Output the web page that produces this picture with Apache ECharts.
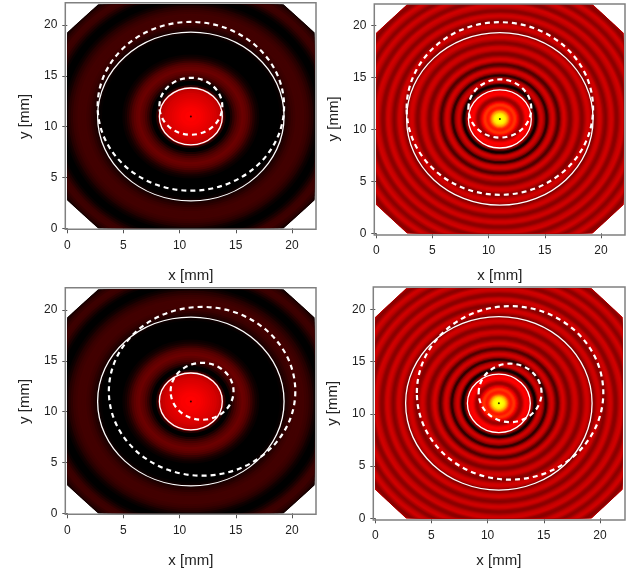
<!DOCTYPE html>
<html>
<head>
<meta charset="utf-8">
<style>html,body{margin:0;padding:0;background:#fff}#chartmain{width:627px;height:572px}</style>
<script src="https://cdn.jsdelivr.net/npm/echarts@6/dist/echarts.min.js"></script>
</head>
<body>
<div id="chartmain"></div>
<script>
// radial intensity, left column, one value every 0.2 mm from the centre
var leftStep = 0.2;
var leftProfile = [
	.50, .50, .50, .49, .49, .48, .47, .46, .45, .44,
	.43, .42, .40, .38, .35, .08, .00, .00, .05, .10,
	.14, .17, .19, .21, .20, .18, .15, .11, .07, .04,
	.02, .00, .00, .00, .00, .00, .00, .00, .00, .00,
	.01, .03, .05, .07, .09, .11, .12, .13, .13, .13,
	.13, .12, .11, .09, .07, .04, .02, .00, .00, .00,
	.02, .05, .08, .11, .12, .12, .10, .08, .05, .03, .02
];
// right column, one value every 0.1 mm from the centre
var rightStep = 0.1;
var rightProfile = [
	1.0, 1.0, 1.0, 1.0, .98, .95, .88, .80, .70, .60,
	.55, .54, .57, .60, .59, .54, .47, .40, .33, .30,
	.31, .36, .43, .48, .50, .49, .48, .45, .40, .33,
	.25, .10, .02, .06, .22, .34, .40, .41, .38, .33,
	.26, .13, .08, .16, .28, .36, .40, .42, .40, .35,
	.27, .20, .15, .18, .26, .34, .39, .42, .41, .37,
	.33, .28, .25, .25, .28, .33, .37, .40, .41, .40,
	.37, .32, .28, .26, .27, .31, .35, .39, .41, .41,
	.39, .35, .30, .27, .26, .28, .33, .37, .40, .41,
	.40, .36, .31, .28, .26, .28, .32, .36, .39, .41,
	.40, .37, .32, .28, .27, .28, .32, .36, .39, .40,
	.41, .38, .33, .29, .27, .28, .31, .35, .38, .40,
	.41, .38, .34, .30, .27, .28, .31, .35, .38, .40,
	.41, .38, .34, .30, .27, .27, .30, .34, .38, .40, .41
];

var tickValues = [0, 5, 10, 15, 20];
var xTitle = 'x [mm]';
var yTitle = 'y [mm]';

// [centre x, centre y, radius] in mm
var solidRings = [[11, 11, 2.8], [11, 11, 8.3]];
var dashedRingsTop = [[11, 12, 2.8], [11, 12, 8.3]];
var dashedRingsBottom = [[12, 12, 2.8], [12, 12, 8.3]];
var centreDot = [[11, 11]];

var extent = 22;
var octagonCut = 2.75;
var octagon = [
	[octagonCut, 0], [extent - octagonCut, 0], [extent, octagonCut], [extent, extent - octagonCut],
	[extent - octagonCut, extent], [octagonCut, extent], [0, extent - octagonCut], [0, octagonCut]
];

var panels = [
	{ left: 67.3, top: 4.6, width: 247.1, height: 223.7, nameGap: 40, frame: [65.3, 2.7, 250.7, 226.6], profile: leftProfile, step: leftStep, dashed: dashedRingsTop },
	{ left: 376.3, top: 4.5, width: 247.1, height: 228.8, nameGap: 35, frame: [374.3, 4, 250.7, 231], profile: rightProfile, step: rightStep, dashed: dashedRingsTop },
	{ left: 67.3, top: 289.6, width: 247.1, height: 223.7, nameGap: 40, frame: [65.3, 287.7, 250.7, 226.6], profile: leftProfile, step: leftStep, dashed: dashedRingsBottom },
	{ left: 375.3, top: 288.4, width: 247.1, height: 229.9, nameGap: 35, frame: [373.3, 287, 251.7, 233], profile: rightProfile, step: rightStep, dashed: dashedRingsBottom }
];

// one filled disc per profile entry, outermost first so the inner ones paint over it
function buildDiscs(profile, step) {
	var discs = [];
	for (var k = profile.length - 1; k >= 0; k--) {
		discs.push([extent / 2, extent / 2, (k + 0.5) * step, profile[k]]);
	}
	return discs;
}

function renderDisc(params, api) {
	var p = api.coord([api.value(0), api.value(1)]);
	var s = api.size([api.value(2), api.value(2)]);
	return {
		type: 'ellipse',
		shape: { cx: p[0], cy: p[1], rx: s[0], ry: s[1] },
		style: { fill: api.visual('color') },
		clipPath: { type: 'polygon', shape: { points: octagon.map(function (c) { return api.coord(c); }) } }
	};
}

function ringRenderer(lineWidth, dash) {
	return function (params, api) {
		var p = api.coord([api.value(0), api.value(1)]);
		var s = api.size([api.value(2), api.value(2)]);
		return {
			type: 'ellipse',
			shape: { cx: p[0], cy: p[1], rx: s[0], ry: s[1] },
			style: { fill: 'none', stroke: '#fff', lineWidth: lineWidth, lineDash: dash }
		};
	};
}

var grids = [], xAxes = [], yAxes = [], series = [], frames = [], heatIndex = [];
var axisFont = { color: '#222', fontSize: 12, fontFamily: 'Liberation Sans' };
var titleFont = { color: '#222', fontSize: 15, fontFamily: 'Liberation Sans' };

panels.forEach(function (panel, i) {
	grids.push({ left: panel.left, top: panel.top, width: panel.width, height: panel.height });
	xAxes.push({
		gridIndex: i, type: 'value', min: 0, max: extent, interval: 5,
		splitLine: { show: false },
		axisLine: { show: false },
		axisTick: { show: true, length: 5, customValues: tickValues, lineStyle: { color: '#555' } },
		axisLabel: Object.assign({ margin: 11, customValues: tickValues }, axisFont),
		name: xTitle, nameLocation: 'middle', nameGap: panel.nameGap, nameTextStyle: titleFont
	});
	yAxes.push({
		gridIndex: i, type: 'value', min: 0, max: extent, interval: 5,
		splitLine: { show: false },
		axisLine: { show: false },
		axisTick: { show: true, length: 5, customValues: tickValues, lineStyle: { color: '#555' } },
		axisLabel: Object.assign({ margin: 10, customValues: tickValues }, axisFont),
		name: yTitle, nameLocation: 'middle', nameGap: 35, nameTextStyle: titleFont
	});
	heatIndex.push(series.length);
	series.push({
		type: 'custom', xAxisIndex: i, yAxisIndex: i, silent: true, z: 1,
		progressive: 0,
		encode: { x: 0, y: 1 }, renderItem: renderDisc,
		data: buildDiscs(panel.profile, panel.step)
	});
	series.push({
		type: 'custom', xAxisIndex: i, yAxisIndex: i, silent: true, z: 2,
		encode: { x: 0, y: 1 }, renderItem: ringRenderer(1.3, null),
		data: solidRings
	});
	series.push({
		type: 'custom', xAxisIndex: i, yAxisIndex: i, silent: true, z: 3,
		encode: { x: 0, y: 1 }, renderItem: ringRenderer(2.2, [5, 4]),
		data: panel.dashed
	});
	series.push({
		type: 'scatter', xAxisIndex: i, yAxisIndex: i, silent: true, z: 4,
		symbolSize: 2, itemStyle: { color: '#000' },
		data: centreDot
	});
	frames.push({
		type: 'rect', silent: true, z: 10,
		shape: { x: panel.frame[0], y: panel.frame[1], width: panel.frame[2], height: panel.frame[3] },
		style: { fill: 'none', stroke: '#808080', lineWidth: 1.5 }
	});
});

var option = {
	animation: false,
	backgroundColor: '#fff',
	grid: grids,
	xAxis: xAxes,
	yAxis: yAxes,
	visualMap: {
		show: false, type: 'continuous', min: 0, max: 1, dimension: 3,
		seriesIndex: heatIndex,
		inRange: { color: ['#000000', '#ff0000', '#ffff00'] }
	},
	series: series,
	graphic: frames
};

var myChart = echarts.init(document.getElementById('chartmain'));
myChart.setOption(option);
</script>
</body>
</html>
